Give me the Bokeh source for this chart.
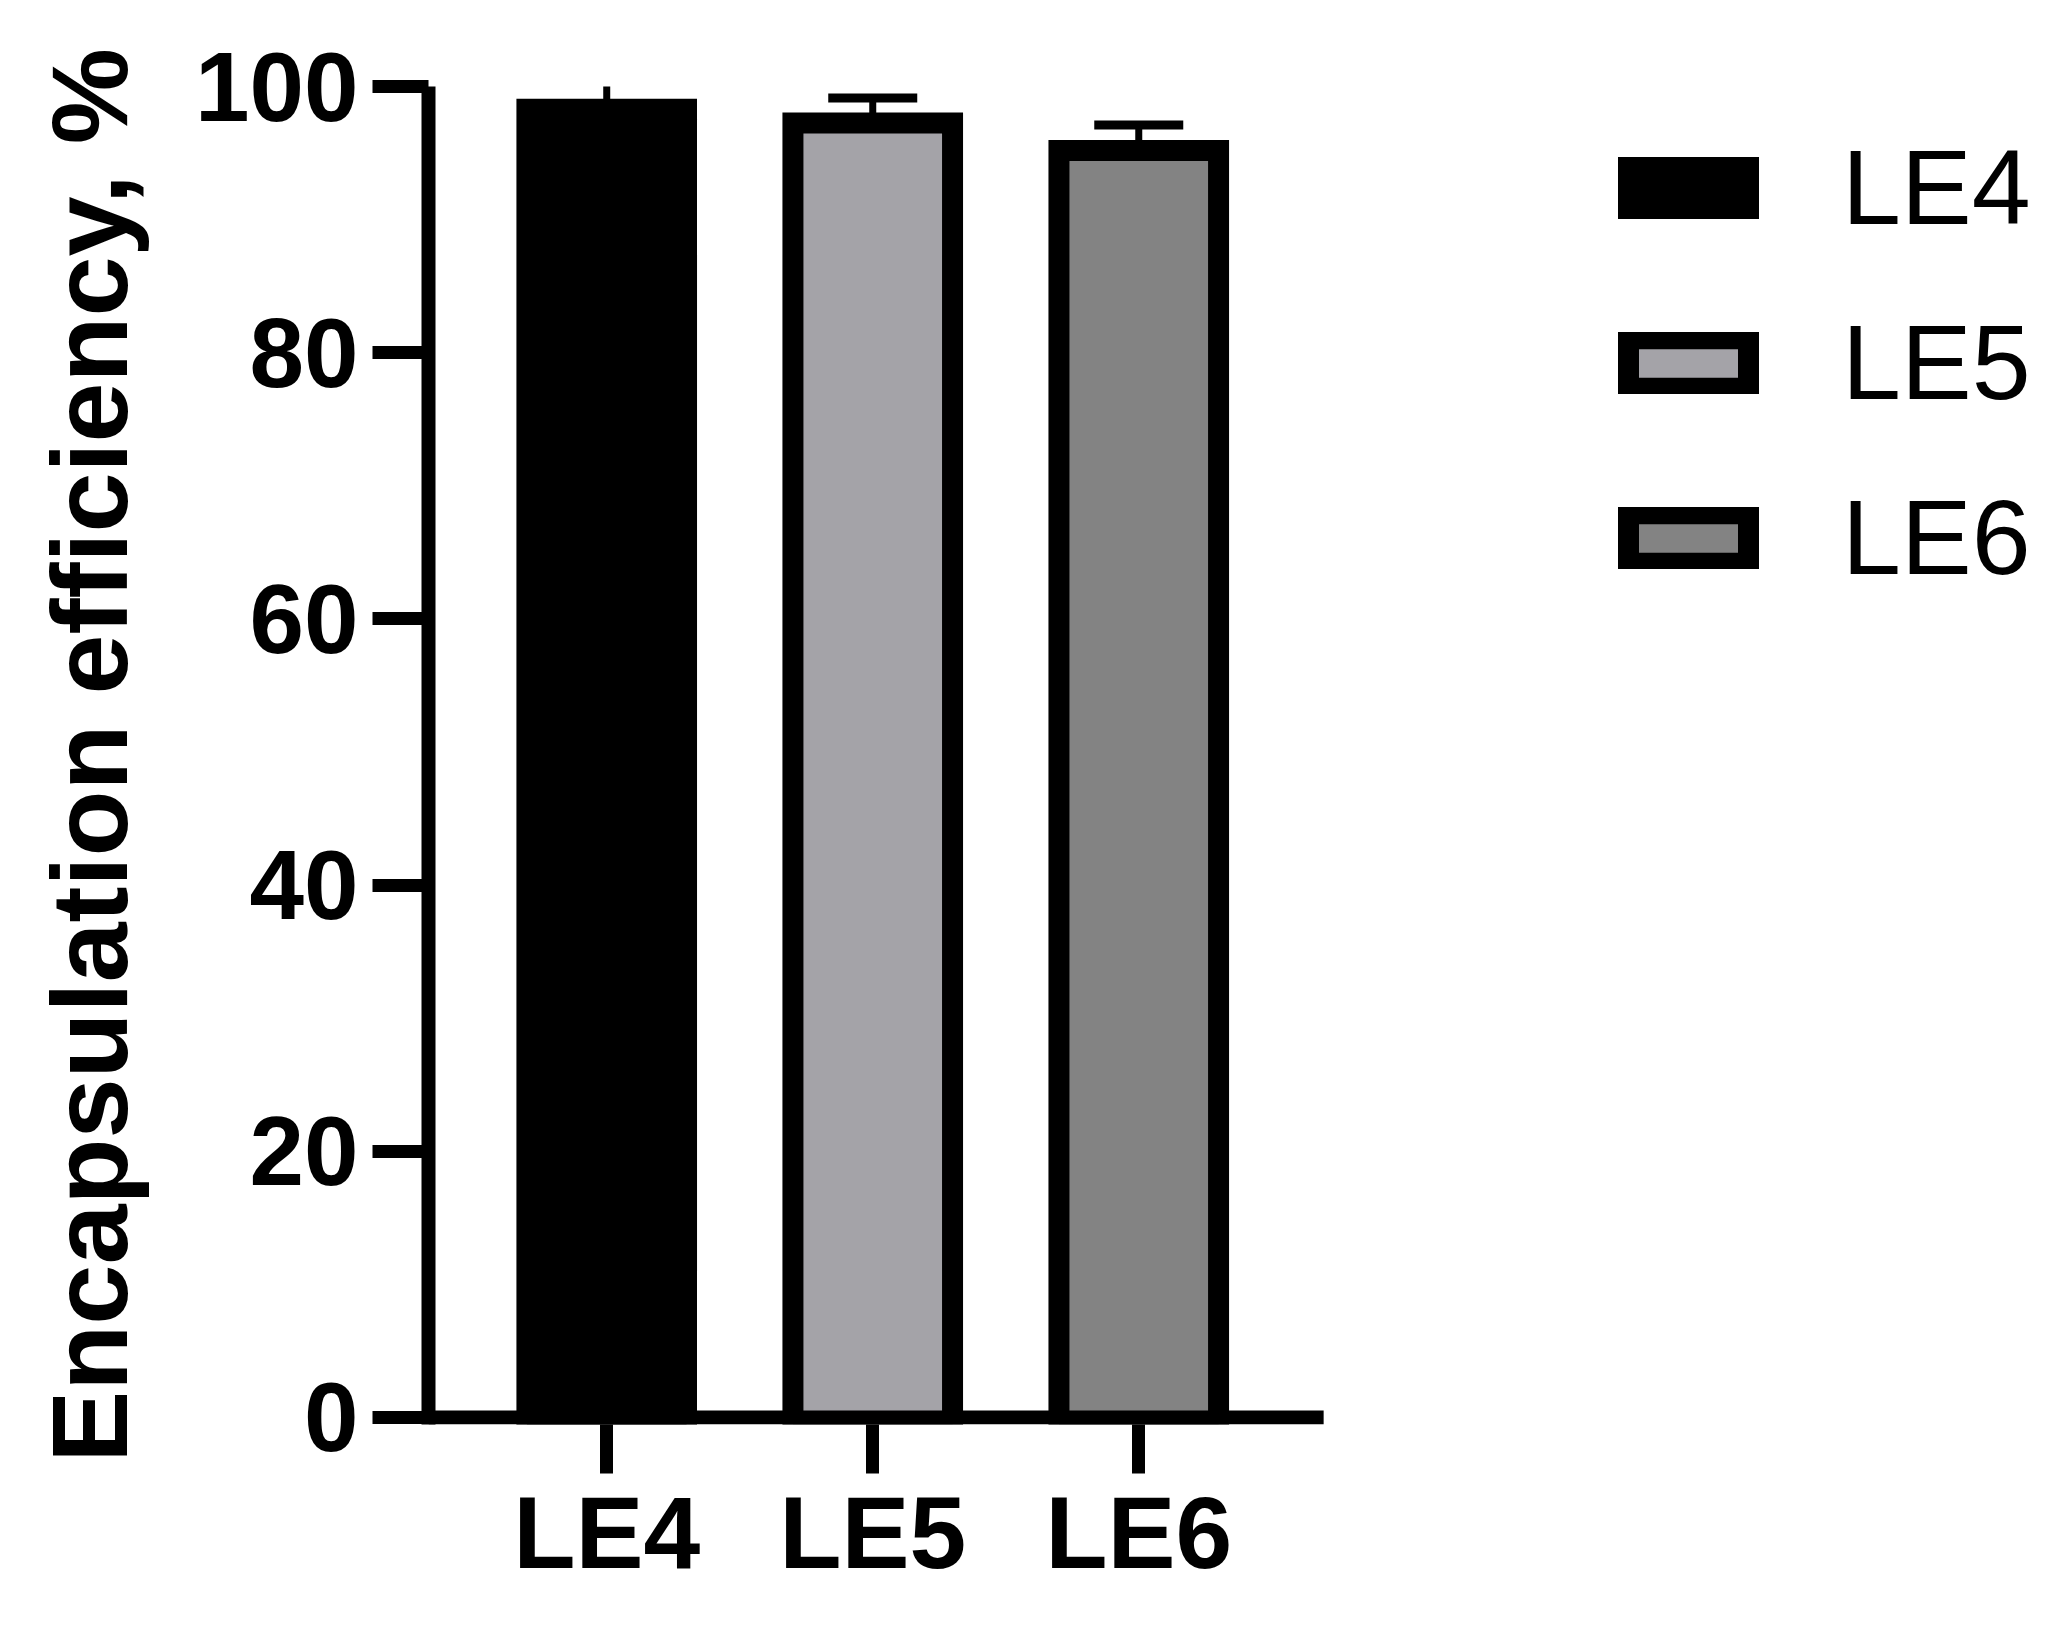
from bokeh.plotting import figure
from bokeh.models import (ColumnDataSource, FixedTicker, Whisker, TeeHead,
                          Legend, LegendItem, Range1d)
from bokeh.embed import file_html
from bokeh.resources import INLINE

# ---- data ----
categories = ["LE4", "LE5", "LE6"]
x_pos = [1, 2, 3]
means = [98.3, 97.25, 95.2]
upper = [100.4, 99.13, 97.1]
fills = ["#000000", "#a4a3a8", "#838383"]
y_ticks = [0, 20, 40, 60, 80, 100]

FONT = "Liberation Sans"
X_START = 0.33
X_AXIS_END = 3.695
Y_START = -0.53

p = figure(width=2040, height=1610, output_backend="svg", toolbar_location=None,
           x_range=Range1d(X_START, 6.371), y_range=Range1d(Y_START, 100),
           min_border_left=428, min_border_right=5,
           min_border_top=86, min_border_bottom=186)
p.outline_line_color = None
p.grid.visible = False
p.background_fill_color = "white"

src = ColumnDataSource(dict(x=x_pos, top=means, upper=upper, fill=fills, name=categories))

renderers = []
for i in range(3):
    r = p.vbar(x=[x_pos[i]], top=[means[i]], bottom=-1.6, width=0.6,
               fill_color=fills[i], line_color="black", line_width=21,
               line_join="miter")
    renderers.append(r)

wh = Whisker(source=src, base="x", upper="upper", lower="top",
             line_color="black", line_width=7,
             upper_head=TeeHead(size=89, line_width=9, line_color="black"),
             lower_head=None)
p.add_layout(wh)

# x baseline (axis line limited to the data part of the plot)
p.segment(x0=[X_START], y0=[y_ticks[0]], x1=[X_AXIS_END], y1=[y_ticks[0]],
          line_color="black", line_width=14, line_cap="butt")

# axes
for ax in (p.xaxis[0], p.yaxis[0]):
    ax.axis_line_width = 14
    ax.axis_line_color = "black"
    ax.major_tick_line_width = 13
    ax.major_tick_line_color = "black"
    ax.major_tick_in = 0
    ax.minor_tick_line_color = None
    ax.major_label_text_font = FONT
    ax.major_label_text_font_style = "bold"
    ax.major_label_text_color = "black"

p.xaxis.axis_line_color = None
p.xaxis.major_tick_out = 49
p.xaxis.ticker = FixedTicker(ticks=x_pos)
p.xaxis.major_label_overrides = {x: c for x, c in zip(x_pos, categories)}
p.xaxis.major_label_text_font_size = "102px"
p.xaxis.major_label_standoff = 2

p.yaxis.major_tick_out = 56
p.yaxis.ticker = FixedTicker(ticks=y_ticks)
p.yaxis.major_label_text_font_size = "98px"
p.yaxis.major_label_standoff = 14
p.yaxis.axis_label = "Encapsulation efficiency, %"
p.yaxis.axis_label_text_font = FONT
p.yaxis.axis_label_text_font_style = "bold"
p.yaxis.axis_label_text_font_size = "108px"
p.yaxis.axis_label_text_color = "black"
p.yaxis.axis_label_standoff = 42

legend = Legend(items=[LegendItem(label=c, renderers=[r]) for c, r in zip(categories, renderers)],
                location=(1185, 826))
legend.glyph_width = 150
legend.glyph_height = 62
legend.label_height = 62
legend.label_standoff = 79
legend.spacing = 54
legend.padding = 0
legend.margin = 0
legend.border_line_color = None
legend.background_fill_alpha = 0
legend.label_text_font = FONT
legend.label_text_font_size = "106px"
legend.label_text_color = "black"
p.add_layout(legend)

open("out.html", "w").write(file_html(p, INLINE))
